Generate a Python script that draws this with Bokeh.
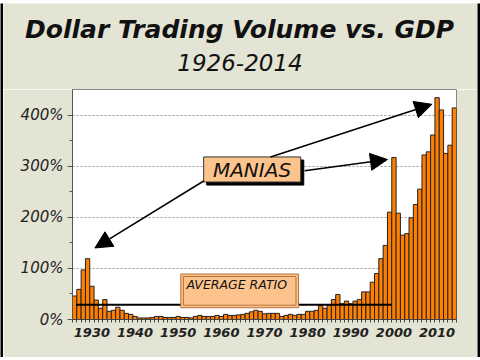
from bokeh.plotting import figure
from bokeh.layouts import column, row
from bokeh.models import (FixedTicker, PrintfTickFormatter, Label, Arrow,
                          NormalHead, Range1d)
from bokeh.embed import file_html
from bokeh.resources import INLINE

# ---- data ----
years = list(range(1926, 2015))
ratio_pct = [46, 59, 97, 119, 65, 38, 22, 39, 16, 18,
             24, 18, 12, 10, 6, 3, 3, 3, 4, 6,
             6, 4, 4, 4, 6, 4, 4, 3, 6, 8,
             6, 6, 6, 8, 6, 10, 8, 8, 9, 10,
             12, 15, 18, 16, 11, 12, 12, 12, 6, 8,
             10, 8, 10, 10, 16, 16, 18, 27, 22, 28,
             39, 49, 31, 36, 31, 36, 39, 54, 54, 73,
             90, 119, 145, 210, 317, 208, 165, 168, 199, 225,
             255, 322, 328, 361, 434, 410, 325, 341, 414]
x_tick_years = [1930, 1940, 1950, 1960, 1970, 1980, 1990, 2000, 2010]
y_ticks = [0, 100, 200, 300, 400]
y_minor = [50, 150, 250, 350]
avg_ratio = 29
avg_span = [1926.3, 1999.4]

title_text = "Dollar Trading Volume vs. GDP"
subtitle_text = "1926-2014"

FONT = "DejaVu Sans"
BEIGE = "#E4E4D4"
ORANGE = "#FF8000"
PEACH = "#FCC48C"
B = 3            # outer black frame thickness
IW = 480 - 2 * B
TOP_H = 86


def strip(w, h):
    s = figure(width=w, height=h, output_backend="svg", toolbar_location=None,
               x_axis_type=None, y_axis_type=None, min_border=0,
               background_fill_color="black", border_fill_color="black",
               outline_line_color=None)
    s.grid.visible = False
    s.frame_align = False
    return s


# ---- title strip ----
t = figure(width=IW, height=TOP_H, output_backend="svg", toolbar_location=None,
           x_range=Range1d(0, IW), y_range=Range1d(0, TOP_H),
           x_axis_type=None, y_axis_type=None, min_border=0,
           background_fill_color=BEIGE, border_fill_color=BEIGE,
           outline_line_color=None)
t.frame_align = False
t.grid.visible = False
t.add_layout(Label(x=236, y=60, text=title_text, text_align="center",
                   text_baseline="alphabetic", text_font=FONT,
                   text_font_style="bold italic", text_font_size="25px",
                   text_color="#111111"))
t.add_layout(Label(x=236.5, y=27, text=subtitle_text, text_align="center",
                   text_baseline="alphabetic", text_font=FONT,
                   text_font_style="italic", text_font_size="23px",
                   text_color="#111111"))

# ---- main chart ----
p = figure(width=IW, height=360 - 2 * B - TOP_H, output_backend="svg",
           toolbar_location=None,
           x_range=Range1d(1925.5, 2014.5), y_range=Range1d(0, 450),
           min_border_left=69, min_border_right=21, min_border_top=0,
           min_border_bottom=38, border_fill_color=BEIGE,
           background_fill_color="white", outline_line_color="#888888")
p.frame_align = False

# bars
p.vbar(x=years, top=ratio_pct, width=1.0, bottom=0,
       fill_color=ORANGE, line_color="#222222", line_width=1)

# average ratio line
p.line(x=avg_span, y=[avg_ratio, avg_ratio], line_color="black", line_width=2)

# axes
p.xaxis.ticker = FixedTicker(ticks=x_tick_years,
                             minor_ticks=[y - 0.5 for y in years] + [2014.5])
p.xaxis.major_tick_out = 0
p.xaxis.major_tick_in = 0
p.xaxis.minor_tick_out = 3
p.xaxis.minor_tick_in = 0
p.xaxis.major_label_standoff = 5
p.xaxis.major_label_text_font = FONT
p.xaxis.major_label_text_font_style = "bold italic"
p.xaxis.major_label_text_font_size = "13px"
p.xaxis.major_label_text_color = "#222222"
p.xaxis.axis_line_color = "#444444"
p.xaxis.minor_tick_line_color = "#444444"

p.yaxis.ticker = FixedTicker(ticks=y_ticks, minor_ticks=y_minor)
p.yaxis.formatter = PrintfTickFormatter(format="%d%%")
p.yaxis.major_tick_out = 5
p.yaxis.major_tick_in = 0
p.yaxis.minor_tick_out = 3
p.yaxis.minor_tick_in = 0
p.yaxis.major_label_standoff = 4
p.yaxis.major_label_text_font = FONT
p.yaxis.major_label_text_font_style = "italic"
p.yaxis.major_label_text_font_size = "15px"
p.yaxis.major_label_text_color = "#222222"
p.yaxis.axis_line_color = "#555555"
p.yaxis.major_tick_line_color = "#555555"
p.yaxis.minor_tick_line_color = "#555555"

p.xgrid.visible = False
p.ygrid.ticker = FixedTicker(ticks=[100, 200, 300, 400])
p.ygrid.grid_line_color = "#999999"
p.ygrid.grid_line_dash = "2 2"

# arrows (annotation positions)
head = dict(size=17, fill_color="black", line_color="black")
for xs, ys, xe, ye in [(1955.9, 271, 1930.7, 140),
                       (1971.4, 318, 2008.8, 421),
                       (1979.3, 291, 1998.5, 313)]:
    p.add_layout(Arrow(end=NormalHead(**head), x_start=xs, y_start=ys,
                       x_end=xe, y_end=ye, line_width=1.5, line_color="black"))

# MANIAS box with shadow
p.quad(left=[1956.6], right=[1979.1], top=[312], bottom=[263],
       fill_color="black", line_color="black")
p.quad(left=[1955.9], right=[1978.4], top=[318], bottom=[269],
       fill_color=PEACH, line_color="#333333", line_width=1)
p.add_layout(Label(x=1967.1, y=293, text="MANIAS", text_align="center",
                   text_baseline="middle", text_font=FONT,
                   text_font_style="italic", text_font_size="20px",
                   text_color="#111111"))

# AVERAGE RATIO box (double border)
p.quad(left=[1950.6], right=[1977.9], top=[89], bottom=[23],
       fill_color=PEACH, line_color="#B8703A", line_width=1)
p.quad(left=[1951.2], right=[1977.3], top=[84], bottom=[28],
       fill_color=PEACH, line_color="#B8703A", line_width=1)
p.add_layout(Label(x=1951.9, y=69, text="AVERAGE RATIO", text_align="left",
                   text_baseline="middle", text_font=FONT,
                   text_font_style="italic", text_font_size="12.5px",
                   text_color="#111111"))

inner = column(t, p, spacing=0)
mid = row(strip(B, 360 - 2 * B), inner, strip(B, 360 - 2 * B), spacing=0)
layout = column(strip(480, B), mid, strip(480, B), spacing=0)

open("out.html", "w").write(file_html(layout, INLINE))
